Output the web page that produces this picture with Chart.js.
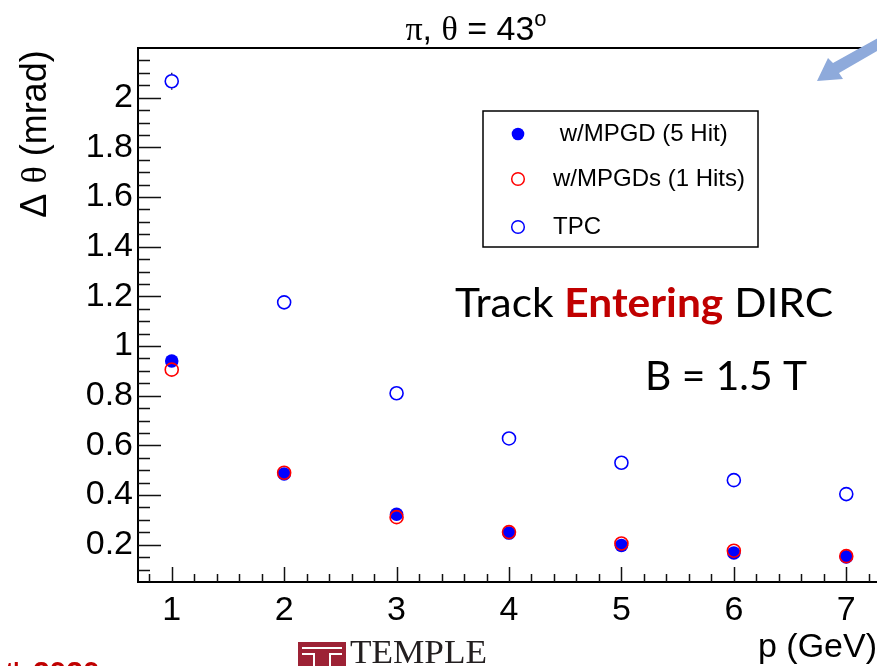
<!DOCTYPE html>
<html>
<head>
<meta charset="utf-8">
<title>Delta theta vs p</title>
<script src="https://cdn.jsdelivr.net/npm/chart.js@4.4.1/dist/chart.umd.min.js"></script>
<style>
  html, body { margin: 0; padding: 0; background: #fff; overflow: hidden; }
  #wrap { position: relative; width: 900px; height: 666px; }
</style>
</head>
<body>
<div id="wrap"><canvas id="dtheta-chart"></canvas></div>
<script>
// momentum points (GeV) and angular resolution (mrad) for each tracking setup
const momentum = [1, 2, 3, 4, 5, 6, 7];
const mpgd5Hit = [0.940, 0.485, 0.323, 0.247, 0.197, 0.167, 0.151];
const mpgd1Hit = [0.905, 0.490, 0.311, 0.251, 0.205, 0.176, 0.154];
const tpcOnly  = [2.066, 1.176, 0.810, 0.628, 0.530, 0.460, 0.404];
const tpcErr   = [0.034, 0, 0, 0, 0, 0, 0];

const xTickValues = [1, 2, 3, 4, 5, 6, 7];
const yTickValues = [0.2, 0.4, 0.6, 0.8, 1.0, 1.2, 1.4, 1.6, 1.8, 2.0];
const legendLabels = [' w/MPGD (5 Hit)', 'w/MPGDs (1 Hits)', 'TPC'];

const SANS = 'Liberation Sans';
const SERIF = 'Liberation Serif';

function toPoints(values) {
    return momentum.map((p, i) => ({ x: p, y: values[i] }));
}

// draw a run of text pieces with their own fonts, returns total width
function measurePieces(ctx, pieces) {
    let w = 0;
    for (const p of pieces) {
        ctx.font = p.font;
        w += ctx.measureText(p.text).width;
    }
    return w;
}

function drawPieces(ctx, pieces, x, y) {
    for (const p of pieces) {
        ctx.font = p.font;
        ctx.fillStyle = p.color || '#000';
        ctx.fillText(p.text, x, y + (p.dy || 0));
        x += ctx.measureText(p.text).width;
    }
}

// text squeezed/stretched to a given width
function drawFitted(ctx, pieces, x, y, width) {
    const w = measurePieces(ctx, pieces);
    ctx.save();
    ctx.translate(x, y);
    ctx.scale(width / w, 1);
    drawPieces(ctx, pieces, 0, 0);
    ctx.restore();
}

const rootStyle = {
    id: 'rootStyle',
    beforeDraw(chart) {
        const ctx = chart.ctx;
        ctx.save();
        ctx.fillStyle = '#fff';
        ctx.fillRect(0, 0, chart.width, chart.height);
        ctx.restore();
    },
    afterDraw(chart) {
        const { ctx, chartArea: area, scales: { x, y } } = chart;
        ctx.save();

        // error bars on the TPC points (kept outside the open marker)
        ctx.strokeStyle = '#202070';
        ctx.lineWidth = 1.5;
        tpcOnly.forEach((v, i) => {
            if (!tpcErr[i]) return;
            const px = x.getPixelForValue(momentum[i]);
            const pc = y.getPixelForValue(v);
            const pt = y.getPixelForValue(v + tpcErr[i]);
            const pb = y.getPixelForValue(v - tpcErr[i]);
            ctx.beginPath();
            ctx.moveTo(px, pt); ctx.lineTo(px, pc - 7);
            ctx.moveTo(px, pc + 7); ctx.lineTo(px, pb);
            ctx.stroke();
        });

        // frame
        ctx.strokeStyle = '#000';
        ctx.lineWidth = 2;
        ctx.beginPath();
        ctx.moveTo(area.right, area.top);
        ctx.lineTo(area.left, area.top);
        ctx.lineTo(area.left, area.bottom);
        ctx.lineTo(area.right, area.bottom);
        ctx.lineTo(area.right, area.top);
        ctx.stroke();

        // inward ticks, major and minor
        ctx.lineWidth = 1.5;
        ctx.strokeStyle = '#111';
        ctx.beginPath();
        for (let k = 1; k * 0.05 < y.max - 1e-6; k++) {
            const v = k * 0.05;
            if (v <= y.min + 1e-6) continue;
            const py = Math.round(y.getPixelForValue(v)) + 0.5;
            const major = k % 4 === 0;
            ctx.moveTo(area.left, py);
            ctx.lineTo(area.left + (major ? 23 : 12), py);
        }
        for (let k = 1; k * 0.2 < x.max - 1e-6; k++) {
            const v = k * 0.2;
            if (v <= x.min + 1e-6) continue;
            const px = Math.round(x.getPixelForValue(v)) + 0.5;
            const major = k % 5 === 0;
            ctx.moveTo(px, area.bottom);
            ctx.lineTo(px, area.bottom - (major ? 15 : 8));
        }
        ctx.stroke();

        // title
        ctx.textBaseline = 'alphabetic';
        const title = [
            { text: '\u03c0', font: `34px ${SERIF}` },
            { text: ', ', font: `34px ${SANS}` },
            { text: '\u03b8', font: `34px ${SERIF}` },
            { text: ' = 43', font: `34px ${SANS}` },
            { text: 'o', font: `22px ${SANS}`, dy: -14 }
        ];
        const tw = measurePieces(ctx, title);
        drawPieces(ctx, title, 476 - tw / 2, 40);

        // y axis title
        const yTitle = [
            { text: '\u0394 ', font: `36px ${SANS}` },
            { text: '\u03b8', font: `36px ${SERIF}` },
            { text: ' (mrad)', font: `36px ${SANS}` }
        ];
        const yw = measurePieces(ctx, yTitle);
        ctx.save();
        ctx.translate(46, 134);
        ctx.rotate(-Math.PI / 2);
        drawPieces(ctx, yTitle, -yw / 2, 0);
        ctx.restore();

        // x axis title
        drawPieces(ctx, [{ text: 'p (GeV)', font: `34px ${SANS}` }], 758, 657);

        // legend box
        const lx = 483, ly = 111, lw = 275, lh = 136;
        ctx.fillStyle = '#fff';
        ctx.fillRect(lx, ly, lw, lh);
        ctx.strokeStyle = '#000';
        ctx.lineWidth = 1.5;
        ctx.strokeRect(lx, ly, lw, lh);
        const rows = [134, 179, 227];
        chart.data.datasets.forEach((ds, i) => {
            ctx.beginPath();
            ctx.arc(518, rows[i], 6.3, 0, Math.PI * 2);
            if (ds.backgroundColor !== 'transparent') {
                ctx.fillStyle = ds.backgroundColor;
                ctx.fill();
            } else {
                ctx.strokeStyle = ds.borderColor;
                ctx.lineWidth = 1.5;
                ctx.stroke();
            }
            ctx.fillStyle = '#000';
            ctx.font = `24px ${SANS}`;
            ctx.textBaseline = 'middle';
            ctx.fillText(legendLabels[i], 553, rows[i]);
        });
        ctx.textBaseline = 'alphabetic';

        // annotations
        drawFitted(ctx, [
            { text: 'Track ', font: `40px Lato` },
            { text: 'Entering', font: `bold 40px Lato`, color: '#c00000' },
            { text: ' DIRC', font: `40px Lato` }
        ], 455, 317, 378);
        drawFitted(ctx, [{ text: 'B = 1.5 T', font: `40px Lato` }], 645, 390, 162);

        // pointer arrow in the corner
        ctx.fillStyle = '#8eaadb';
        ctx.beginPath();
        ctx.moveTo(817, 81);
        ctx.lineTo(828, 58);
        ctx.lineTo(833, 63);
        ctx.lineTo(878, 38);
        ctx.lineTo(884, 47);
        ctx.lineTo(839, 73);
        ctx.lineTo(843, 79);
        ctx.closePath();
        ctx.fill();

        // footer: university mark and date
        ctx.fillStyle = '#9d2235';
        ctx.fillRect(298, 642, 48, 30);
        ctx.strokeStyle = '#fff';
        ctx.lineWidth = 2;
        ctx.beginPath();
        ctx.moveTo(302, 648); ctx.lineTo(342, 648);
        ctx.moveTo(302, 654); ctx.lineTo(314, 654); ctx.lineTo(314, 670);
        ctx.moveTo(342, 654); ctx.lineTo(330, 654); ctx.lineTo(330, 670);
        ctx.stroke();
        drawFitted(ctx, [{ text: 'TEMPLE', font: `34px ${SERIF}`, color: '#231f20' }], 350, 663, 137);
        drawPieces(ctx, [
            { text: 'th ', font: `bold 22px ${SANS}`, color: '#c00000', dy: -4 },
            { text: '2020', font: `bold 30px ${SANS}`, color: '#c00000' }
        ], 6, 682);

        ctx.restore();
    }
};

const ctx = document.getElementById('dtheta-chart').getContext('2d');

const chart = new Chart(ctx, {
    type: 'scatter',
    data: {
        datasets: [
            {
                label: 'w/MPGD (5 Hit)',
                data: toPoints(mpgd5Hit),
                backgroundColor: '#0000ff',
                borderColor: '#0000ff',
                borderWidth: 0,
                pointRadius: 6.8,
                order: 1
            },
            {
                label: 'w/MPGDs (1 Hits)',
                data: toPoints(mpgd1Hit),
                backgroundColor: 'transparent',
                borderColor: '#ff0000',
                borderWidth: 1.6,
                pointRadius: 6.5,
                order: 0
            },
            {
                label: 'TPC',
                data: toPoints(tpcOnly),
                backgroundColor: 'transparent',
                borderColor: '#0000ff',
                borderWidth: 1.6,
                pointRadius: 6.5,
                order: 2
            }
        ]
    },
    options: {
        responsive: true,
        maintainAspectRatio: false,
        animation: false,
        events: [],
        layout: { padding: { top: 48, right: 20, left: 0, bottom: 0 } },
        plugins: {
            legend: { display: false },
            tooltip: { enabled: false }
        },
        scales: {
            x: {
                type: 'linear',
                min: 0.7,
                max: 7.3,
                grid: { display: false, drawTicks: false },
                border: { display: false },
                afterBuildTicks: scale => { scale.ticks = xTickValues.map(v => ({ value: v })); },
                afterFit: scale => { scale.height = 84; },
                ticks: {
                    autoSkip: false,
                    maxRotation: 0,
                    padding: 8,
                    color: '#000',
                    font: { family: SANS, size: 34 },
                    callback: v => String(v)
                }
            },
            y: {
                type: 'linear',
                min: 0.05,
                max: 2.2,
                grid: { display: false, drawTicks: false },
                border: { display: false },
                afterBuildTicks: scale => { scale.ticks = yTickValues.map(v => ({ value: v })); },
                afterFit: scale => { scale.width = 138; },
                ticks: {
                    autoSkip: false,
                    padding: 5,
                    color: '#000',
                    font: { family: SANS, size: 34 },
                    callback: v => String(Math.round(v * 10) / 10)
                }
            }
        }
    },
    plugins: [rootStyle]
});
</script>
</body>
</html>
